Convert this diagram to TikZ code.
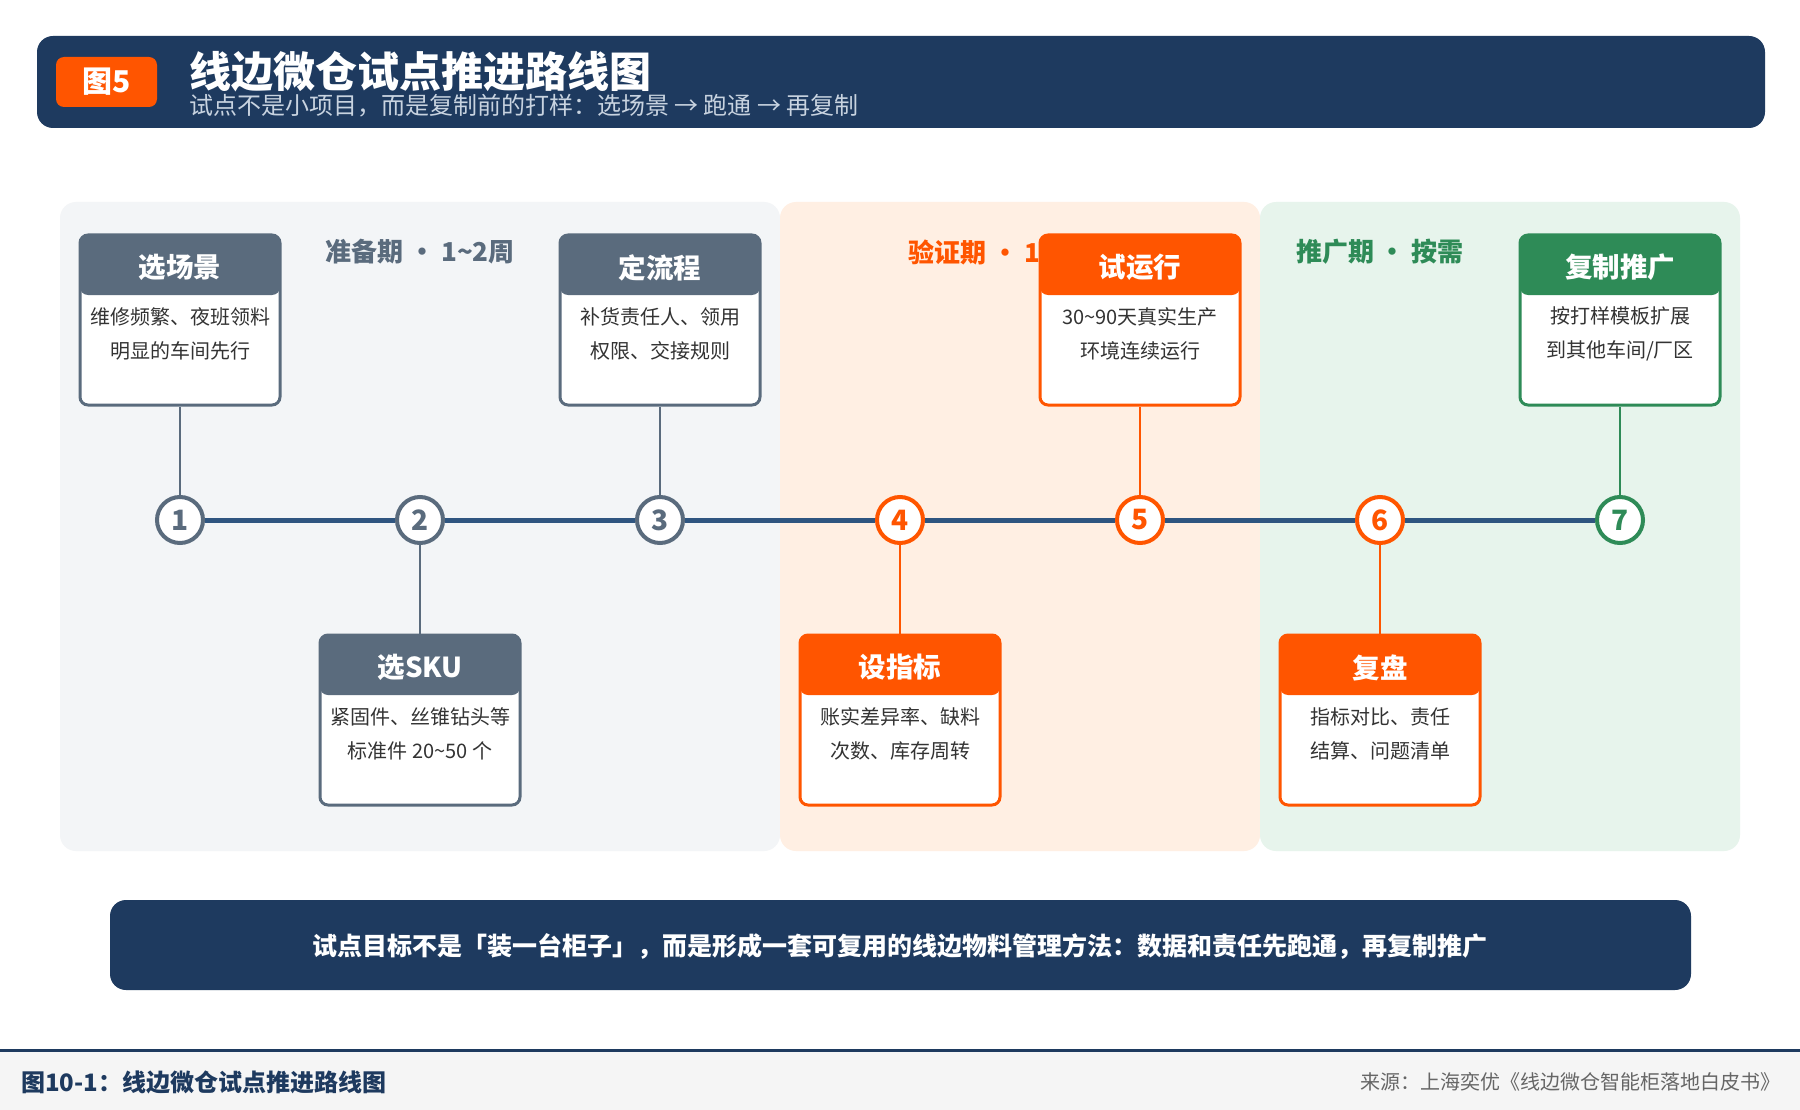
\documentclass[tikz,border=0pt]{standalone}
\usepackage{fontspec}
\setmainfont{Noto Sans CJK SC}
\usetikzlibrary{positioning}
\definecolor{navy}{HTML}{1E3A5F}
\definecolor{linecol}{HTML}{2F5580}
\definecolor{slate}{HTML}{5A6B7D}
\definecolor{orng}{HTML}{FF5500}
\definecolor{grn}{HTML}{2E8B57}
\definecolor{pgray}{HTML}{F3F5F7}
\definecolor{ppeach}{HTML}{FFEFE3}
\definecolor{pgreen}{HTML}{E7F4EC}
\definecolor{bodytxt}{HTML}{333333}
\definecolor{subtxt}{HTML}{C8D3E0}
\tikzset{
  panel/.style={fill=#1, rounded corners=16pt},
  stepbox/.style={draw=#1, fill=white, line width=3pt, rounded corners=8pt,
    minimum width=200pt, minimum height=170pt,
    path picture={\fill[#1] (path picture bounding box.north west) rectangle ([yshift=-60pt]path picture bounding box.north east);}},
  boxtitle/.style={text=white, font=\fontsize{27.5}{27.5}\selectfont\bfseries},
  boxbody/.style={text=bodytxt, align=center, font=\fontsize{20}{34}\selectfont},
  stepnum/.style={circle, draw=#1, fill=white, line width=4pt, minimum size=46pt,
    inner sep=0pt, text=#1, font=\fontsize{28}{28}\selectfont\bfseries},
  link/.style={draw=#1, line width=2.5pt},
  phase/.style={text=#1, font=\fontsize{26}{26}\selectfont\bfseries}
}
\begin{document}
\begin{tikzpicture}[x=1pt,y=-1pt]
    \useasboundingbox[fill=white] (0,0) rectangle (1800,1110);
    % 顶部标题栏
    \fill[navy, rounded corners=16pt] (37,36) rectangle (1765,128);
    \node[fill=orng, rounded corners=8pt, minimum width=101pt, minimum height=50pt, text=white,
        font=\fontsize{30}{30}\selectfont\bfseries] (badge) at (106.5,82) {图5};
    \node[anchor=west, inner sep=0pt, text=white, font=\fontsize{42}{42}\selectfont\bfseries]
        (title) at (189,72) {线边微仓试点推进路线图};
    \node[anchor=west, inner sep=0pt, text=subtxt, font=\fontsize{24}{24}\selectfont]
        (subtitle) at (189,106) {试点不是小项目，而是复制前的打样：选场景 → 跑通 → 再复制};
    % 三个阶段底色
    \fill[panel=pgray] (60,202) rectangle (780,851);
    \fill[panel=ppeach] (780,202) rectangle (1260,851);
    \fill[panel=pgreen] (1260,202) rectangle (1740,851);
    \node[phase=slate] (ph1) at (420,252) {准备期 • 1\textasciitilde 2周};
    \node[phase=orng, anchor=west] (ph2) at (905,252) {验证期 • 1};
    \node[phase=grn] (ph3) at (1380,252) {推广期 • 按需};
    % 时间轴上的七个节点
    \node[stepnum=slate] (c1) at (180,520) {1};
    \node[stepnum=slate] (c2) at (420,520) {2};
    \node[stepnum=slate] (c3) at (660,520) {3};
    \node[stepnum=orng] (c4) at (900,520) {4};
    \node[stepnum=orng] (c5) at (1140,520) {5};
    \node[stepnum=orng] (c6) at (1380,520) {6};
    \node[stepnum=grn] (c7) at (1620,520) {7};
    \foreach \a/\b in {1/2,2/3,3/4,4/5,5/6,6/7}
        \draw[linecol, line width=5pt] (c\a) -- (c\b);%时间轴主线
    % 上方的卡片
    \node[stepbox=slate] (box1) at (180,320) {};
    \node[boxtitle] (t1) at ([yshift=-34pt]box1.north) {选场景};
    \node[boxbody] (d1) at ([yshift=-100pt]box1.north) {维修频繁、夜班领料\\明显的车间先行};
    \node[stepbox=slate] (box3) at (660,320) {};
    \node[boxtitle] (t3) at ([yshift=-34pt]box3.north) {定流程};
    \node[boxbody] (d3) at ([yshift=-100pt]box3.north) {补货责任人、领用\\权限、交接规则};
    \node[stepbox=orng] (box5) at (1140,320) {};
    \node[boxtitle] (t5) at ([yshift=-34pt]box5.north) {试运行};
    \node[boxbody] (d5) at ([yshift=-100pt]box5.north) {30\textasciitilde 90天真实生产\\环境连续运行};
    \node[stepbox=grn] (box7) at (1620,320) {};
    \node[boxtitle] (t7) at ([yshift=-34pt]box7.north) {复制推广};
    \node[boxbody] (d7) at ([yshift=-100pt]box7.north) {按打样模板扩展\\到其他车间/厂区};
    % 下方的卡片
    \node[stepbox=slate] (box2) at (420,720) {};
    \node[boxtitle] (t2) at ([yshift=-34pt]box2.north) {选SKU};
    \node[boxbody] (d2) at ([yshift=-100pt]box2.north) {紧固件、丝锥钻头等\\标准件 20\textasciitilde 50 个};
    \node[stepbox=orng] (box4) at (900,720) {};
    \node[boxtitle] (t4) at ([yshift=-34pt]box4.north) {设指标};
    \node[boxbody] (d4) at ([yshift=-100pt]box4.north) {账实差异率、缺料\\次数、库存周转};
    \node[stepbox=orng] (box6) at (1380,720) {};
    \node[boxtitle] (t6) at ([yshift=-34pt]box6.north) {复盘};
    \node[boxbody] (d6) at ([yshift=-100pt]box6.north) {指标对比、责任\\结算、问题清单};
    % 节点与卡片的连线
    \draw[link=slate] (c1) -- (box1);
    \draw[link=slate] (c2) -- (box2);
    \draw[link=slate] (c3) -- (box3);
    \draw[link=orng] (c4) -- (box4);
    \draw[link=orng] (c5) -- (box5);
    \draw[link=orng] (c6) -- (box6);
    \draw[link=grn] (c7) -- (box7);
    % 底部结论
    \fill[navy, rounded corners=16pt] (110,900) rectangle (1691,990);
    \node[text=white, font=\fontsize{25}{25}\selectfont\bfseries] (note) at (900,946)
        {试点目标不是「装一台柜子」，而是形成一套可复用的线边物料管理方法：数据和责任先跑通，再复制推广};
    % 图注
    \fill[black!4] (0,1050) rectangle (1800,1110);
    \draw[navy, line width=3pt] (0,1050) -- (1800,1050);
    \node[anchor=west, inner sep=0pt, text=navy, font=\fontsize{24}{24}\selectfont\bfseries]
        (caption) at (21,1082) {图10-1：线边微仓试点推进路线图};
    \node[anchor=east, inner sep=0pt, text=black!60, font=\fontsize{20}{20}\selectfont]
        (source) at (1781,1082) {来源：上海奕优《线边微仓智能柜落地白皮书》};
\end{tikzpicture}
\end{document}
